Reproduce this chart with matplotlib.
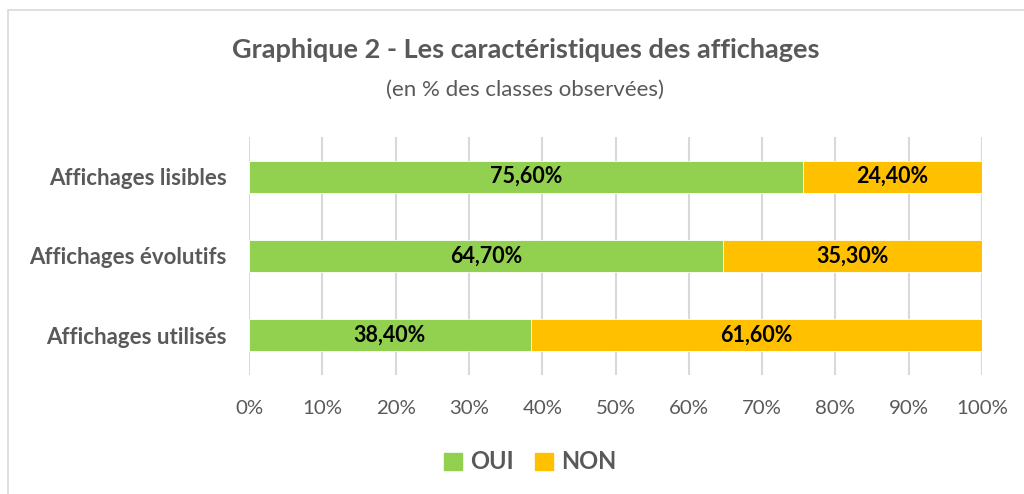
import matplotlib
matplotlib.use("Agg")
import matplotlib.pyplot as plt
from matplotlib.patches import Rectangle, Patch

categories = ["Affichages lisibles", "Affichages évolutifs", "Affichages utilisés"]
oui = [75.6, 64.7, 38.4]
non = [24.4, 35.3, 61.6]
oui_labels = ["75,60%", "64,70%", "38,40%"]
non_labels = ["24,40%", "35,30%", "61,60%"]

GREEN = "#92D050"
ORANGE = "#FFC000"
GREY = "#595959"

plt.rcParams["font.family"] = ["Lato", "DejaVu Sans"]

fig = plt.figure(figsize=(10.24, 4.94), dpi=100)
ax = fig.add_axes([0.2432, 0.2409, 0.9590 - 0.2432, 0.7227 - 0.2409])

y = list(range(len(categories)))
b1 = ax.barh(y, oui, height=0.4, color=GREEN, edgecolor="white", linewidth=0.6, zorder=3)
b2 = ax.barh(y, non, left=oui, height=0.4, color=ORANGE, edgecolor="white", linewidth=0.6, zorder=3)
ax.bar_label(b1, labels=oui_labels, label_type="center", fontsize=15.5, fontweight="bold", color="black")
ax.bar_label(b2, labels=non_labels, label_type="center", fontsize=15.5, fontweight="bold", color="black")

ax.set_xlim(0, 100)
ax.set_ylim(2.5, -0.5)
ax.set_xticks(range(0, 101, 10))
ax.set_xticklabels([f"{v}%" for v in range(0, 101, 10)], fontsize=14.7, color=GREY)
ax.set_yticks(y)
ax.set_yticklabels(categories, fontsize=16, fontweight="bold", color=GREY)
ax.tick_params(axis="both", length=0)
ax.tick_params(axis="x", pad=18)
ax.tick_params(axis="y", pad=16)
ax.grid(axis="x", color="#D9D9D9", linewidth=1.5, zorder=0)
for s in ax.spines.values():
    s.set_visible(False)

fig.text(0.513, 0.898, "Graphique 2 - Les caractéristiques des affichages",
         ha="center", va="center", fontsize=19.5, fontweight="bold", color=GREY)
fig.text(0.513, 0.818, "(en % des classes observées)",
         ha="center", va="center", fontsize=16, color=GREY)

handles = [Patch(color=GREEN, label="OUI"), Patch(color=ORANGE, label="NON")]
leg = fig.legend(handles=handles, loc="center", bbox_to_anchor=(0.518, 0.065), ncol=2,
                 frameon=False, handlelength=0.75, handleheight=0.75, handletextpad=0.35,
                 columnspacing=0.9, prop={"size": 17, "weight": "bold"})
for t in leg.get_texts():
    t.set_color(GREY)

fig.patches.append(Rectangle((8 / 1024, -0.1), 1.2, 1 - 10 / 494 + 0.1, transform=fig.transFigure,
                             fill=False, edgecolor="#D9D9D9", linewidth=1.2))

fig.savefig("out.png", dpi=100, facecolor="white")
